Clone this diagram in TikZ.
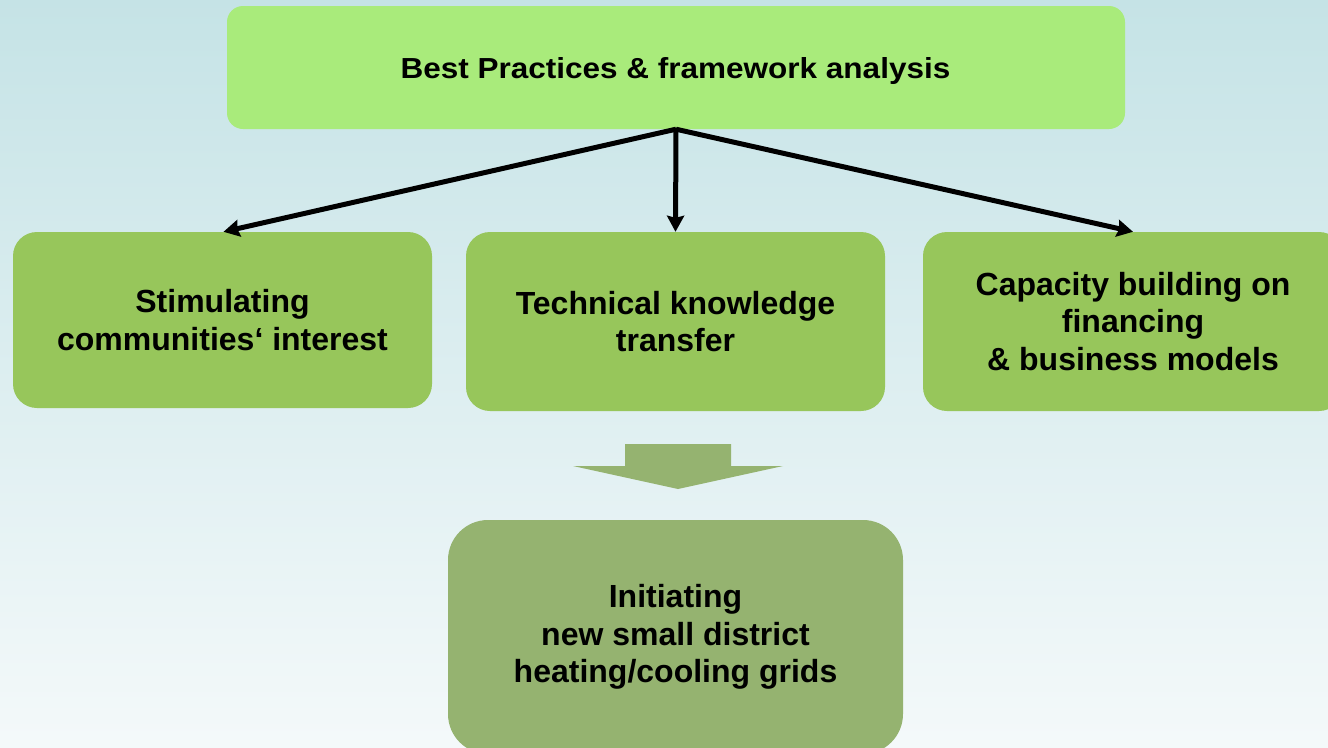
\documentclass[tikz,border=0pt]{standalone}
\usepackage{fontspec}
\setmainfont{Liberation Sans}
\usetikzlibrary{arrows.meta}
\definecolor{bgtop}{HTML}{C5E3E6}
\definecolor{bgbot}{HTML}{F4F9FA}
\definecolor{topgreen}{HTML}{A9EB7B}
\definecolor{midgreen}{HTML}{97C65B}
\definecolor{olivegreen}{HTML}{95B370}
\tikzset{
  box/.style={rounded corners=24pt, inner sep=0pt, align=center,
    font=\fontsize{32}{37.5}\selectfont\bfseries, text=black},
  link/.style={draw=black, line width=5pt,
    -{Stealth[length=16pt,width=17pt,inset=2pt]}},
}
\begin{document}
\begin{tikzpicture}[x=1pt,y=-1pt]
\useasboundingbox (0,0) rectangle (1328,747);
\clip (0,0) rectangle (1328,747);
\shade[top color=bgtop, bottom color=bgbot] (0,0) rectangle (1328,747);

\node[box, fill=topgreen, rounded corners=16pt, minimum width=898pt, minimum height=123pt] (top) at (676,67.5) {};
\node[inner sep=0pt, anchor=base] (toptext) at (675.5,78.5)
  {\scalebox{1}[0.92]{\fontsize{31.5}{36}\selectfont\bfseries Best Practices \& framework analysis}};

\node[box, fill=midgreen, minimum width=419pt, minimum height=176pt] (left) at (222.5,320)
  {Stimulating\\communities‘ interest};
\node[box, fill=midgreen, minimum width=419pt, minimum height=179pt] (mid) at (675.5,321.5)
  {Technical knowledge\\transfer};
\node[box, fill=midgreen, minimum width=420pt, minimum height=179pt] (right) at (1133,321.5)
  {Capacity building on\\financing\\\& business models};

\node[box, fill=olivegreen, rounded corners=40pt, minimum width=455pt, minimum height=234pt] (bot) at (675.5,637)
  {Initiating\\new small district\\heating/cooling grids};

\coordinate (src) at (top.south);
\draw[link] (src) -- ([xshift=1pt]left.north);
\draw[link] (src) -- (mid.north);
\draw[link] (src) -- (right.north);

% block arrow
\fill[olivegreen] (625,444) -- (731,444) -- (731,466) -- (783,466) -- (678,489)
  -- (573,466) -- (625,466) -- cycle;
\end{tikzpicture}
\end{document}
